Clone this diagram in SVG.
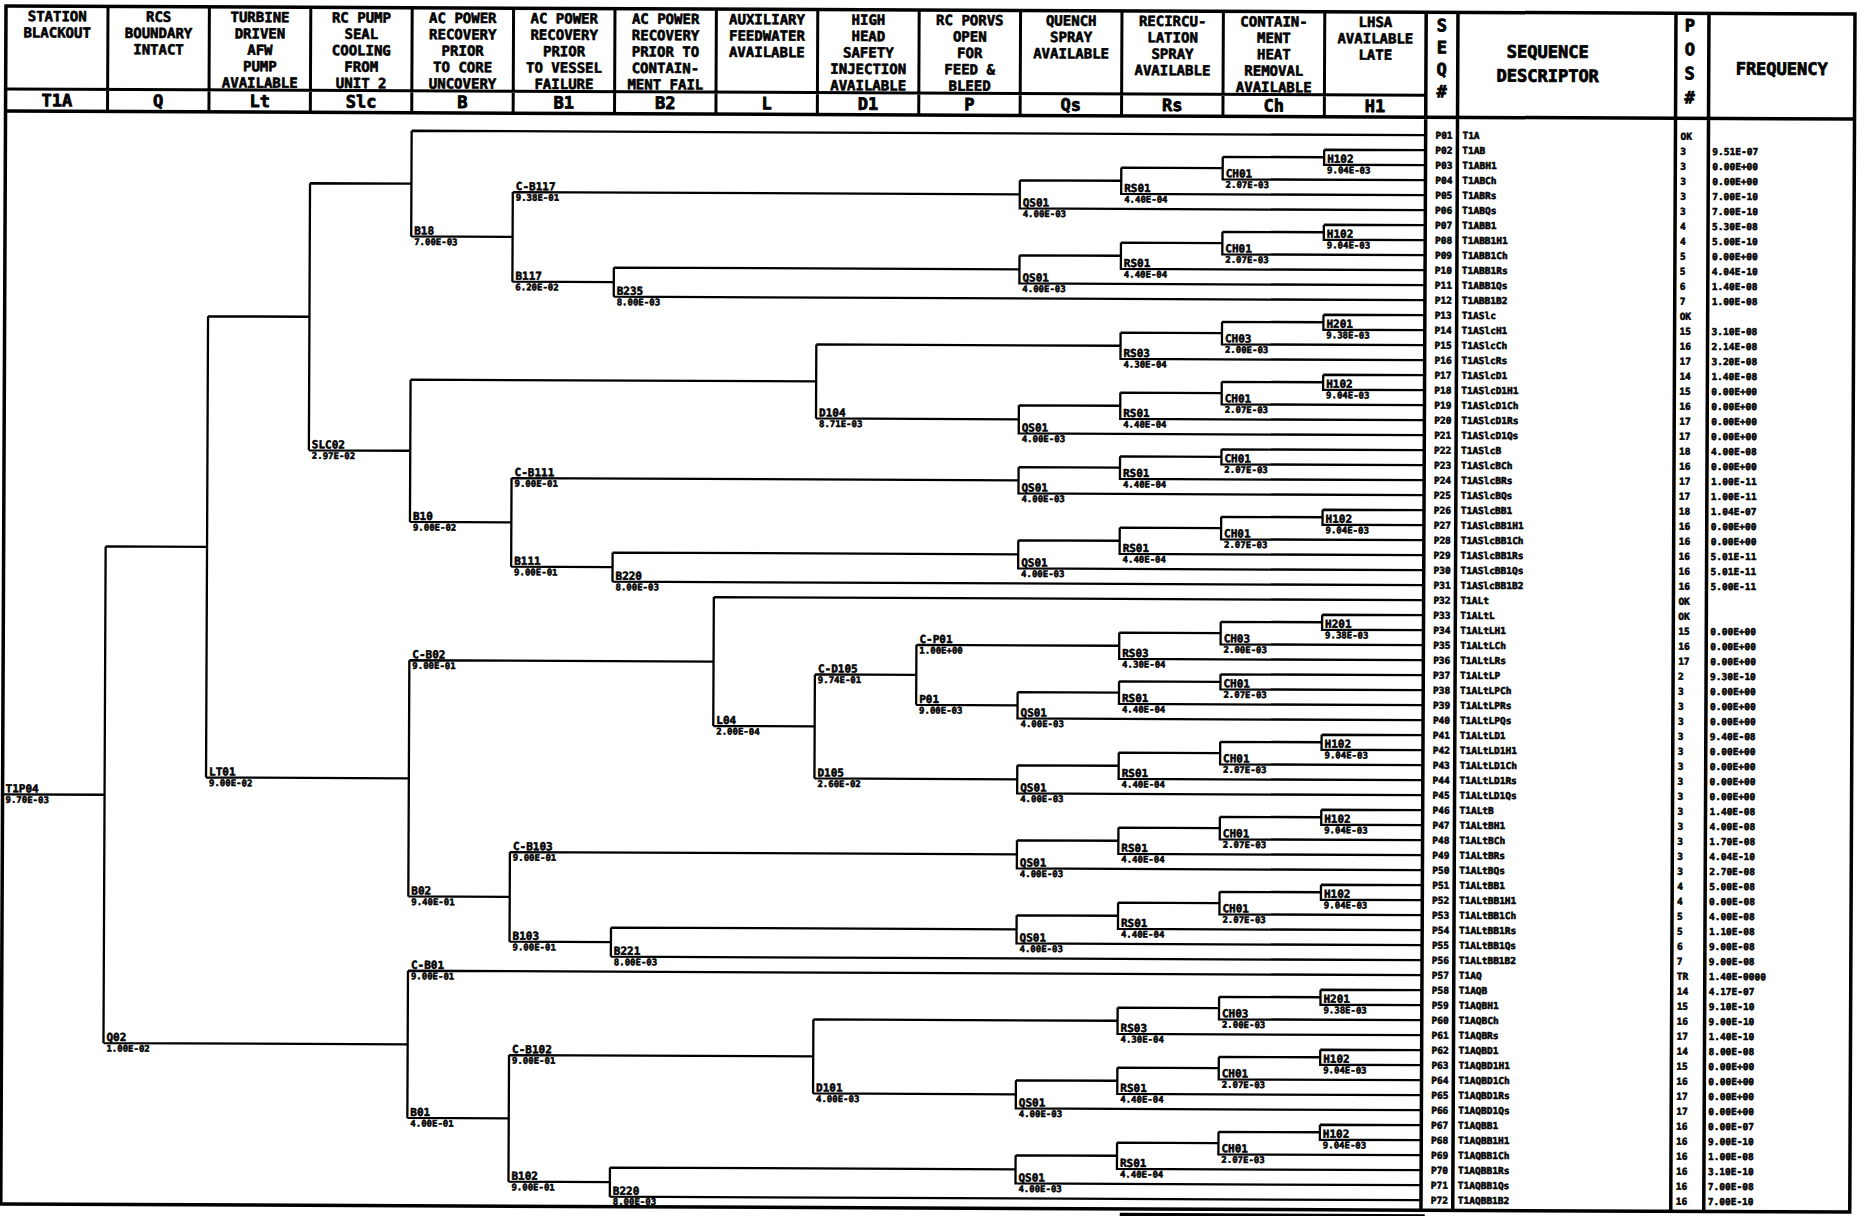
<svg xmlns="http://www.w3.org/2000/svg" width="1864" height="1216" viewBox="0 0 1864 1216">
<style>
text{fill:#000;stroke:#000;stroke-width:0.55;stroke-linejoin:round}
.h{font:bold 14px "DejaVu Sans Mono",monospace;text-anchor:middle;stroke-width:0.6}
.c{font:bold 17px "DejaVu Sans Mono",monospace;text-anchor:middle;stroke-width:0.8}
.hb{font:bold 17px "DejaVu Sans Mono",monospace;text-anchor:middle;stroke-width:0.8}
.n{font:bold 11px "DejaVu Sans Mono",monospace}
.v{font:bold 9px "DejaVu Sans Mono",monospace}
.r{font:bold 9.5px "DejaVu Sans Mono",monospace}
.fr{fill:none;stroke:#000;stroke-width:3.5}
.dv{fill:none;stroke:#000;stroke-width:3}
</style>
<defs>
<path id="gQ" d="M1020.6 31.875V60H1426M1020.6 31.875H1122M1122 18.75V45H1426M1122 18.75H1223.4M1223.4 7.5V30H1426M1223.4 7.5H1324.8M1324.8 0V15H1426M1324.8 0H1426"/>
<path id="g3" d="M1020.6 18.75V45H1426M1020.6 18.75H1122M1122 7.5V30H1426M1122 7.5H1223.4M1223.4 0V15H1426M1223.4 0H1426"/>
<path id="gR" d="M1122 18.75V45H1426M1122 18.75H1223.4M1223.4 7.5V30H1426M1223.4 7.5H1324.8M1324.8 0V15H1426M1324.8 0H1426"/>
</defs>
<rect width="1864" height="1216" fill="#fff"/>
<g transform="rotate(0.25 6 6)">
<g id="frame">
<rect class="fr" x="6" y="6" width="1849" height="1198"/>
<path class="dv" d="M6 89H1426M108 6V111M209.4 6V111M310.8 6V111M412.2 6V111M513.6 6V111M615 6V111M716.4 6V111M817.8 6V111M919.2 6V111M1020.6 6V111M1122 6V111M1223.4 6V111M1324.8 6V111"/>
<path class="fr" d="M6 111H1855M1426.2 6V1204M1458 6V1204M1676 6V1204M1709 6V1204"/>
<path fill="none" stroke="#000" stroke-width="4" d="M1127 1216V1210H1430"/>
</g>
<g id="header">
<g id="h-T1A"><text class="h" x="57.3" y="21">STATION<tspan x="57.3" dy="16.4">BLACKOUT</tspan></text><text class="c" x="57.3" y="106">T1A</text></g>
<g id="h-Q"><text class="h" x="158.7" y="21">RCS<tspan x="158.7" dy="16.4">BOUNDARY</tspan><tspan x="158.7" dy="16.4">INTACT</tspan></text><text class="c" x="158.7" y="106">Q</text></g>
<g id="h-Lt"><text class="h" x="260.1" y="21">TURBINE<tspan x="260.1" dy="16.4">DRIVEN</tspan><tspan x="260.1" dy="16.4">AFW</tspan><tspan x="260.1" dy="16.4">PUMP</tspan><tspan x="260.1" dy="16.4">AVAILABLE</tspan></text><text class="c" x="260.1" y="106">Lt</text></g>
<g id="h-Slc"><text class="h" x="361.5" y="21">RC PUMP<tspan x="361.5" dy="16.4">SEAL</tspan><tspan x="361.5" dy="16.4">COOLING</tspan><tspan x="361.5" dy="16.4">FROM</tspan><tspan x="361.5" dy="16.4">UNIT 2</tspan></text><text class="c" x="361.5" y="106">Slc</text></g>
<g id="h-B"><text class="h" x="462.9" y="21">AC POWER<tspan x="462.9" dy="16.4">RECOVERY</tspan><tspan x="462.9" dy="16.4">PRIOR</tspan><tspan x="462.9" dy="16.4">TO CORE</tspan><tspan x="462.9" dy="16.4">UNCOVERY</tspan></text><text class="c" x="462.9" y="106">B</text></g>
<g id="h-B1"><text class="h" x="564.3" y="21">AC POWER<tspan x="564.3" dy="16.4">RECOVERY</tspan><tspan x="564.3" dy="16.4">PRIOR</tspan><tspan x="564.3" dy="16.4">TO VESSEL</tspan><tspan x="564.3" dy="16.4">FAILURE</tspan></text><text class="c" x="564.3" y="106">B1</text></g>
<g id="h-B2"><text class="h" x="665.7" y="21">AC POWER<tspan x="665.7" dy="16.4">RECOVERY</tspan><tspan x="665.7" dy="16.4">PRIOR TO</tspan><tspan x="665.7" dy="16.4">CONTAIN-</tspan><tspan x="665.7" dy="16.4">MENT FAIL</tspan></text><text class="c" x="665.7" y="106">B2</text></g>
<g id="h-L"><text class="h" x="767.1" y="21">AUXILIARY<tspan x="767.1" dy="16.4">FEEDWATER</tspan><tspan x="767.1" dy="16.4">AVAILABLE</tspan></text><text class="c" x="767.1" y="106">L</text></g>
<g id="h-D1"><text class="h" x="868.5" y="21">HIGH<tspan x="868.5" dy="16.4">HEAD</tspan><tspan x="868.5" dy="16.4">SAFETY</tspan><tspan x="868.5" dy="16.4">INJECTION</tspan><tspan x="868.5" dy="16.4">AVAILABLE</tspan></text><text class="c" x="868.5" y="106">D1</text></g>
<g id="h-P"><text class="h" x="969.9" y="21">RC PORVS<tspan x="969.9" dy="16.4">OPEN</tspan><tspan x="969.9" dy="16.4">FOR</tspan><tspan x="969.9" dy="16.4">FEED &amp;</tspan><tspan x="969.9" dy="16.4">BLEED</tspan></text><text class="c" x="969.9" y="106">P</text></g>
<g id="h-Qs"><text class="h" x="1071.3" y="21">QUENCH<tspan x="1071.3" dy="16.4">SPRAY</tspan><tspan x="1071.3" dy="16.4">AVAILABLE</tspan></text><text class="c" x="1071.3" y="106">Qs</text></g>
<g id="h-Rs"><text class="h" x="1172.7" y="21">RECIRCU-<tspan x="1172.7" dy="16.4">LATION</tspan><tspan x="1172.7" dy="16.4">SPRAY</tspan><tspan x="1172.7" dy="16.4">AVAILABLE</tspan></text><text class="c" x="1172.7" y="106">Rs</text></g>
<g id="h-Ch"><text class="h" x="1274.1" y="21">CONTAIN-<tspan x="1274.1" dy="16.4">MENT</tspan><tspan x="1274.1" dy="16.4">HEAT</tspan><tspan x="1274.1" dy="16.4">REMOVAL</tspan><tspan x="1274.1" dy="16.4">AVAILABLE</tspan></text><text class="c" x="1274.1" y="106">Ch</text></g>
<g id="h-H1"><text class="h" x="1375.5" y="21">LHSA<tspan x="1375.5" dy="16.4">AVAILABLE</tspan><tspan x="1375.5" dy="16.4">LATE</tspan></text><text class="c" x="1375.5" y="106">H1</text></g>
<g id="h-seq"><text class="hb" x="1442" y="25">S<tspan x="1442" dy="22">E</tspan><tspan x="1442" dy="22">Q</tspan><tspan x="1442" dy="22">#</tspan></text></g>
<g id="h-desc"><text class="hb" x="1548" y="51">SEQUENCE<tspan x="1548" dy="24">DESCRIPTOR</tspan></text></g>
<g id="h-pos"><text class="hb" x="1690" y="24">P<tspan x="1690" dy="24">O</tspan><tspan x="1690" dy="24">S</tspan><tspan x="1690" dy="24">#</tspan></text></g>
<g id="h-freq"><text class="hb" x="1782" y="67">FREQUENCY</text></g>
</g>
<g id="connectors" fill="none" stroke="#000" stroke-width="2.3">
<path d="M6.6 794.3H108M108 546V1042.6M108 546H209.4M108 1042.6H412.2M209.4 315.4V776.6M209.4 315.4H310.8M209.4 776.6H412.2M310.8 181.9V449M310.8 181.9H412.2M310.8 449H412.2M412.2 129V234.7M412.2 129H1426M412.2 234.7H513.6M513.6 189.9V279.5M513.6 189.9H1020.6M513.6 279.5H615M615 264.9V294M615 264.9H1020.6M615 294H1426M412.2 377.9V520.2M412.2 377.9H817.8M412.2 520.2H513.6M817.8 340.9V414.9M817.8 340.9H1122M817.8 414.9H1020.6M513.6 475.9V564.5M513.6 475.9H1020.6M513.6 564.5H615M615 549.9V579M615 549.9H1020.6M615 579H1426M412.2 658.5V894.7M412.2 658.5H716.4M412.2 894.7H513.6M716.4 594V722.9M716.4 594H1426M716.4 722.9H817.8M817.8 670.9V774.9M817.8 670.9H919.2M817.8 774.9H1020.6M919.2 640.9V700.9M919.2 640.9H1122M919.2 700.9H1020.6M513.6 849.9V939.5M513.6 849.9H1020.6M513.6 939.5H615M615 924.9V954M615 924.9H1020.6M615 954H1426M412.2 969V1116.2M412.2 969H1426M412.2 1116.2H513.6M513.6 1052.9V1179.5M513.6 1052.9H817.8M513.6 1179.5H615M817.8 1015.9V1089.9M817.8 1015.9H1122M817.8 1089.9H1020.6M615 1164.9V1194M615 1164.9H1020.6M615 1194H1426"/>
<use href="#gQ" y="144"/><use href="#gQ" y="219"/><use href="#gR" y="309"/><use href="#gQ" y="369"/><use href="#g3" y="444"/><use href="#gQ" y="504"/><use href="#gR" y="609"/><use href="#g3" y="669"/><use href="#gQ" y="729"/><use href="#gQ" y="804"/><use href="#gQ" y="879"/><use href="#gR" y="984"/><use href="#gQ" y="1044"/><use href="#gQ" y="1119"/>
</g>
<g id="branch-labels">
<g id="n-T1P04"><text class="n" x="9" y="792.3">T1P04</text><text class="v" x="9" y="802.8">9.70E-03</text></g>
<g id="n-Q02"><text class="n" x="111" y="1040.6">Q02</text><text class="v" x="111" y="1051.1">1.00E-02</text></g>
<g id="n-LT01"><text class="n" x="212.4" y="774.6">LT01</text><text class="v" x="212.4" y="785.1">9.00E-02</text></g>
<g id="n-SLC02"><text class="n" x="313.8" y="447">SLC02</text><text class="v" x="313.8" y="457.5">2.97E-02</text></g>
<g id="n-B18"><text class="n" x="415.2" y="232.7">B18</text><text class="v" x="415.2" y="243.2">7.00E-03</text></g>
<g id="n-CB117"><text class="n" x="516.6" y="187.9">C-B117</text><text class="v" x="516.6" y="198.4">9.38E-01</text></g>
<g id="n-B117"><text class="n" x="516.6" y="277.5">B117</text><text class="v" x="516.6" y="288">6.20E-02</text></g>
<g id="n-B235"><text class="n" x="618" y="292">B235</text><text class="v" x="618" y="302.5">8.00E-03</text></g>
<g id="n-D104"><text class="n" x="820.8" y="412.9">D104</text><text class="v" x="820.8" y="423.4">8.71E-03</text></g>
<g id="n-B10"><text class="n" x="415.2" y="518.2">B10</text><text class="v" x="415.2" y="528.7">9.00E-02</text></g>
<g id="n-CB111"><text class="n" x="516.6" y="473.9">C-B111</text><text class="v" x="516.6" y="484.4">9.00E-01</text></g>
<g id="n-B111"><text class="n" x="516.6" y="562.5">B111</text><text class="v" x="516.6" y="573">9.00E-01</text></g>
<g id="n-B220a"><text class="n" x="618" y="577">B220</text><text class="v" x="618" y="587.5">8.00E-03</text></g>
<g id="n-CB02"><text class="n" x="415.2" y="656.5">C-B02</text><text class="v" x="415.2" y="667">9.00E-01</text></g>
<g id="n-B02"><text class="n" x="415.2" y="892.7">B02</text><text class="v" x="415.2" y="903.2">9.40E-01</text></g>
<g id="n-L04"><text class="n" x="719.4" y="720.9">L04</text><text class="v" x="719.4" y="731.4">2.00E-04</text></g>
<g id="n-CD105"><text class="n" x="820.8" y="668.9">C-D105</text><text class="v" x="820.8" y="679.4">9.74E-01</text></g>
<g id="n-D105"><text class="n" x="820.8" y="772.9">D105</text><text class="v" x="820.8" y="783.4">2.60E-02</text></g>
<g id="n-CP01"><text class="n" x="922.2" y="638.9">C-P01</text><text class="v" x="922.2" y="649.4">1.00E+00</text></g>
<g id="n-P01"><text class="n" x="922.2" y="698.9">P01</text><text class="v" x="922.2" y="709.4">9.00E-03</text></g>
<g id="n-CB103"><text class="n" x="516.6" y="847.9">C-B103</text><text class="v" x="516.6" y="858.4">9.00E-01</text></g>
<g id="n-B103"><text class="n" x="516.6" y="937.5">B103</text><text class="v" x="516.6" y="948">9.00E-01</text></g>
<g id="n-B221"><text class="n" x="618" y="952">B221</text><text class="v" x="618" y="962.5">8.00E-03</text></g>
<g id="n-CB01"><text class="n" x="415.2" y="967">C-B01</text><text class="v" x="415.2" y="977.5">9.00E-01</text></g>
<g id="n-B01"><text class="n" x="415.2" y="1114.2">B01</text><text class="v" x="415.2" y="1124.7">4.00E-01</text></g>
<g id="n-CB102"><text class="n" x="516.6" y="1050.9">C-B102</text><text class="v" x="516.6" y="1061.4">9.00E-01</text></g>
<g id="n-B102"><text class="n" x="516.6" y="1177.5">B102</text><text class="v" x="516.6" y="1188">9.00E-01</text></g>
<g id="n-D101"><text class="n" x="820.8" y="1087.9">D101</text><text class="v" x="820.8" y="1098.4">4.00E-03</text></g>
<g id="n-B220b"><text class="n" x="618" y="1192">B220</text><text class="v" x="618" y="1202">8.00E-03</text></g>
</g>
<g id="group-labels">
<g id="gl-2"><text class="n" x="1327.8" y="157">H102</text><text class="v" x="1327.8" y="167.5">9.04E-03</text><text class="n" x="1226.4" y="172">CH01</text><text class="v" x="1226.4" y="182.5">2.07E-03</text><text class="n" x="1125" y="187">RS01</text><text class="v" x="1125" y="197.5">4.40E-04</text><text class="n" x="1023.6" y="202">QS01</text><text class="v" x="1023.6" y="212.5">4.00E-03</text></g>
<g id="gl-7"><text class="n" x="1327.8" y="232">H102</text><text class="v" x="1327.8" y="242.5">9.04E-03</text><text class="n" x="1226.4" y="247">CH01</text><text class="v" x="1226.4" y="257.5">2.07E-03</text><text class="n" x="1125" y="262">RS01</text><text class="v" x="1125" y="272.5">4.40E-04</text><text class="n" x="1023.6" y="277">QS01</text><text class="v" x="1023.6" y="287.5">4.00E-03</text></g>
<g id="gl-13"><text class="n" x="1327.8" y="322">H201</text><text class="v" x="1327.8" y="332.5">9.38E-03</text><text class="n" x="1226.4" y="337">CH03</text><text class="v" x="1226.4" y="347.5">2.00E-03</text><text class="n" x="1125" y="352">RS03</text><text class="v" x="1125" y="362.5">4.30E-04</text></g>
<g id="gl-17"><text class="n" x="1327.8" y="382">H102</text><text class="v" x="1327.8" y="392.5">9.04E-03</text><text class="n" x="1226.4" y="397">CH01</text><text class="v" x="1226.4" y="407.5">2.07E-03</text><text class="n" x="1125" y="412">RS01</text><text class="v" x="1125" y="422.5">4.40E-04</text><text class="n" x="1023.6" y="427">QS01</text><text class="v" x="1023.6" y="437.5">4.00E-03</text></g>
<g id="gl-22"><text class="n" x="1226.4" y="457">CH01</text><text class="v" x="1226.4" y="467.5">2.07E-03</text><text class="n" x="1125" y="472">RS01</text><text class="v" x="1125" y="482.5">4.40E-04</text><text class="n" x="1023.6" y="487">QS01</text><text class="v" x="1023.6" y="497.5">4.00E-03</text></g>
<g id="gl-26"><text class="n" x="1327.8" y="517">H102</text><text class="v" x="1327.8" y="527.5">9.04E-03</text><text class="n" x="1226.4" y="532">CH01</text><text class="v" x="1226.4" y="542.5">2.07E-03</text><text class="n" x="1125" y="547">RS01</text><text class="v" x="1125" y="557.5">4.40E-04</text><text class="n" x="1023.6" y="562">QS01</text><text class="v" x="1023.6" y="572.5">4.00E-03</text></g>
<g id="gl-33"><text class="n" x="1327.8" y="622">H201</text><text class="v" x="1327.8" y="632.5">9.38E-03</text><text class="n" x="1226.4" y="637">CH03</text><text class="v" x="1226.4" y="647.5">2.00E-03</text><text class="n" x="1125" y="652">RS03</text><text class="v" x="1125" y="662.5">4.30E-04</text></g>
<g id="gl-37"><text class="n" x="1226.4" y="682">CH01</text><text class="v" x="1226.4" y="692.5">2.07E-03</text><text class="n" x="1125" y="697">RS01</text><text class="v" x="1125" y="707.5">4.40E-04</text><text class="n" x="1023.6" y="712">QS01</text><text class="v" x="1023.6" y="722.5">4.00E-03</text></g>
<g id="gl-41"><text class="n" x="1327.8" y="742">H102</text><text class="v" x="1327.8" y="752.5">9.04E-03</text><text class="n" x="1226.4" y="757">CH01</text><text class="v" x="1226.4" y="767.5">2.07E-03</text><text class="n" x="1125" y="772">RS01</text><text class="v" x="1125" y="782.5">4.40E-04</text><text class="n" x="1023.6" y="787">QS01</text><text class="v" x="1023.6" y="797.5">4.00E-03</text></g>
<g id="gl-46"><text class="n" x="1327.8" y="817">H102</text><text class="v" x="1327.8" y="827.5">9.04E-03</text><text class="n" x="1226.4" y="832">CH01</text><text class="v" x="1226.4" y="842.5">2.07E-03</text><text class="n" x="1125" y="847">RS01</text><text class="v" x="1125" y="857.5">4.40E-04</text><text class="n" x="1023.6" y="862">QS01</text><text class="v" x="1023.6" y="872.5">4.00E-03</text></g>
<g id="gl-51"><text class="n" x="1327.8" y="892">H102</text><text class="v" x="1327.8" y="902.5">9.04E-03</text><text class="n" x="1226.4" y="907">CH01</text><text class="v" x="1226.4" y="917.5">2.07E-03</text><text class="n" x="1125" y="922">RS01</text><text class="v" x="1125" y="932.5">4.40E-04</text><text class="n" x="1023.6" y="937">QS01</text><text class="v" x="1023.6" y="947.5">4.00E-03</text></g>
<g id="gl-58"><text class="n" x="1327.8" y="997">H201</text><text class="v" x="1327.8" y="1007.5">9.38E-03</text><text class="n" x="1226.4" y="1012">CH03</text><text class="v" x="1226.4" y="1022.5">2.00E-03</text><text class="n" x="1125" y="1027">RS03</text><text class="v" x="1125" y="1037.5">4.30E-04</text></g>
<g id="gl-62"><text class="n" x="1327.8" y="1057">H102</text><text class="v" x="1327.8" y="1067.5">9.04E-03</text><text class="n" x="1226.4" y="1072">CH01</text><text class="v" x="1226.4" y="1082.5">2.07E-03</text><text class="n" x="1125" y="1087">RS01</text><text class="v" x="1125" y="1097.5">4.40E-04</text><text class="n" x="1023.6" y="1102">QS01</text><text class="v" x="1023.6" y="1112.5">4.00E-03</text></g>
<g id="gl-67"><text class="n" x="1327.8" y="1132">H102</text><text class="v" x="1327.8" y="1142.5">9.04E-03</text><text class="n" x="1226.4" y="1147">CH01</text><text class="v" x="1226.4" y="1157.5">2.07E-03</text><text class="n" x="1125" y="1162">RS01</text><text class="v" x="1125" y="1172.5">4.40E-04</text><text class="n" x="1023.6" y="1177">QS01</text><text class="v" x="1023.6" y="1187.5">4.00E-03</text></g>
</g>
<g id="sequences" class="r">
<text y="132.5"><tspan x="1436">P01</tspan><tspan x="1463">T1A</tspan><tspan x="1681">OK</tspan></text>
<text y="147.5"><tspan x="1436">P02</tspan><tspan x="1463">T1AB</tspan><tspan x="1681">3</tspan><tspan x="1713">9.51E-07</tspan></text>
<text y="162.5"><tspan x="1436">P03</tspan><tspan x="1463">T1ABH1</tspan><tspan x="1681">3</tspan><tspan x="1713">0.00E+00</tspan></text>
<text y="177.5"><tspan x="1436">P04</tspan><tspan x="1463">T1ABCh</tspan><tspan x="1681">3</tspan><tspan x="1713">0.00E+00</tspan></text>
<text y="192.5"><tspan x="1436">P05</tspan><tspan x="1463">T1ABRs</tspan><tspan x="1681">3</tspan><tspan x="1713">7.00E-10</tspan></text>
<text y="207.5"><tspan x="1436">P06</tspan><tspan x="1463">T1ABQs</tspan><tspan x="1681">3</tspan><tspan x="1713">7.00E-10</tspan></text>
<text y="222.5"><tspan x="1436">P07</tspan><tspan x="1463">T1ABB1</tspan><tspan x="1681">4</tspan><tspan x="1713">5.30E-08</tspan></text>
<text y="237.5"><tspan x="1436">P08</tspan><tspan x="1463">T1ABB1H1</tspan><tspan x="1681">4</tspan><tspan x="1713">5.00E-10</tspan></text>
<text y="252.5"><tspan x="1436">P09</tspan><tspan x="1463">T1ABB1Ch</tspan><tspan x="1681">5</tspan><tspan x="1713">0.00E+00</tspan></text>
<text y="267.5"><tspan x="1436">P10</tspan><tspan x="1463">T1ABB1Rs</tspan><tspan x="1681">5</tspan><tspan x="1713">4.04E-10</tspan></text>
<text y="282.5"><tspan x="1436">P11</tspan><tspan x="1463">T1ABB1Qs</tspan><tspan x="1681">6</tspan><tspan x="1713">1.40E-08</tspan></text>
<text y="297.5"><tspan x="1436">P12</tspan><tspan x="1463">T1ABB1B2</tspan><tspan x="1681">7</tspan><tspan x="1713">1.00E-08</tspan></text>
<text y="312.5"><tspan x="1436">P13</tspan><tspan x="1463">T1ASlc</tspan><tspan x="1681">OK</tspan></text>
<text y="327.5"><tspan x="1436">P14</tspan><tspan x="1463">T1ASlcH1</tspan><tspan x="1681">15</tspan><tspan x="1713">3.10E-08</tspan></text>
<text y="342.5"><tspan x="1436">P15</tspan><tspan x="1463">T1ASlcCh</tspan><tspan x="1681">16</tspan><tspan x="1713">2.14E-08</tspan></text>
<text y="357.5"><tspan x="1436">P16</tspan><tspan x="1463">T1ASlcRs</tspan><tspan x="1681">17</tspan><tspan x="1713">3.20E-08</tspan></text>
<text y="372.5"><tspan x="1436">P17</tspan><tspan x="1463">T1ASlcD1</tspan><tspan x="1681">14</tspan><tspan x="1713">1.40E-08</tspan></text>
<text y="387.5"><tspan x="1436">P18</tspan><tspan x="1463">T1ASlcD1H1</tspan><tspan x="1681">15</tspan><tspan x="1713">0.00E+00</tspan></text>
<text y="402.5"><tspan x="1436">P19</tspan><tspan x="1463">T1ASlcD1Ch</tspan><tspan x="1681">16</tspan><tspan x="1713">0.00E+00</tspan></text>
<text y="417.5"><tspan x="1436">P20</tspan><tspan x="1463">T1ASlcD1Rs</tspan><tspan x="1681">17</tspan><tspan x="1713">0.00E+00</tspan></text>
<text y="432.5"><tspan x="1436">P21</tspan><tspan x="1463">T1ASlcD1Qs</tspan><tspan x="1681">17</tspan><tspan x="1713">0.00E+00</tspan></text>
<text y="447.5"><tspan x="1436">P22</tspan><tspan x="1463">T1ASlcB</tspan><tspan x="1681">18</tspan><tspan x="1713">4.00E-08</tspan></text>
<text y="462.5"><tspan x="1436">P23</tspan><tspan x="1463">T1ASlcBCh</tspan><tspan x="1681">16</tspan><tspan x="1713">0.00E+00</tspan></text>
<text y="477.5"><tspan x="1436">P24</tspan><tspan x="1463">T1ASlcBRs</tspan><tspan x="1681">17</tspan><tspan x="1713">1.00E-11</tspan></text>
<text y="492.5"><tspan x="1436">P25</tspan><tspan x="1463">T1ASlcBQs</tspan><tspan x="1681">17</tspan><tspan x="1713">1.00E-11</tspan></text>
<text y="507.5"><tspan x="1436">P26</tspan><tspan x="1463">T1ASlcBB1</tspan><tspan x="1681">18</tspan><tspan x="1713">1.04E-07</tspan></text>
<text y="522.5"><tspan x="1436">P27</tspan><tspan x="1463">T1ASlcBB1H1</tspan><tspan x="1681">16</tspan><tspan x="1713">0.00E+00</tspan></text>
<text y="537.5"><tspan x="1436">P28</tspan><tspan x="1463">T1ASlcBB1Ch</tspan><tspan x="1681">16</tspan><tspan x="1713">0.00E+00</tspan></text>
<text y="552.5"><tspan x="1436">P29</tspan><tspan x="1463">T1ASlcBB1Rs</tspan><tspan x="1681">16</tspan><tspan x="1713">5.01E-11</tspan></text>
<text y="567.5"><tspan x="1436">P30</tspan><tspan x="1463">T1ASlcBB1Qs</tspan><tspan x="1681">16</tspan><tspan x="1713">5.01E-11</tspan></text>
<text y="582.5"><tspan x="1436">P31</tspan><tspan x="1463">T1ASlcBB1B2</tspan><tspan x="1681">16</tspan><tspan x="1713">5.00E-11</tspan></text>
<text y="597.5"><tspan x="1436">P32</tspan><tspan x="1463">T1ALt</tspan><tspan x="1681">OK</tspan></text>
<text y="612.5"><tspan x="1436">P33</tspan><tspan x="1463">T1ALtL</tspan><tspan x="1681">OK</tspan></text>
<text y="627.5"><tspan x="1436">P34</tspan><tspan x="1463">T1ALtLH1</tspan><tspan x="1681">15</tspan><tspan x="1713">0.00E+00</tspan></text>
<text y="642.5"><tspan x="1436">P35</tspan><tspan x="1463">T1ALtLCh</tspan><tspan x="1681">16</tspan><tspan x="1713">0.00E+00</tspan></text>
<text y="657.5"><tspan x="1436">P36</tspan><tspan x="1463">T1ALtLRs</tspan><tspan x="1681">17</tspan><tspan x="1713">0.00E+00</tspan></text>
<text y="672.5"><tspan x="1436">P37</tspan><tspan x="1463">T1ALtLP</tspan><tspan x="1681">2</tspan><tspan x="1713">9.30E-10</tspan></text>
<text y="687.5"><tspan x="1436">P38</tspan><tspan x="1463">T1ALtLPCh</tspan><tspan x="1681">3</tspan><tspan x="1713">0.00E+00</tspan></text>
<text y="702.5"><tspan x="1436">P39</tspan><tspan x="1463">T1ALtLPRs</tspan><tspan x="1681">3</tspan><tspan x="1713">0.00E+00</tspan></text>
<text y="717.5"><tspan x="1436">P40</tspan><tspan x="1463">T1ALtLPQs</tspan><tspan x="1681">3</tspan><tspan x="1713">0.00E+00</tspan></text>
<text y="732.5"><tspan x="1436">P41</tspan><tspan x="1463">T1ALtLD1</tspan><tspan x="1681">3</tspan><tspan x="1713">9.40E-08</tspan></text>
<text y="747.5"><tspan x="1436">P42</tspan><tspan x="1463">T1ALtLD1H1</tspan><tspan x="1681">3</tspan><tspan x="1713">0.00E+00</tspan></text>
<text y="762.5"><tspan x="1436">P43</tspan><tspan x="1463">T1ALtLD1Ch</tspan><tspan x="1681">3</tspan><tspan x="1713">0.00E+00</tspan></text>
<text y="777.5"><tspan x="1436">P44</tspan><tspan x="1463">T1ALtLD1Rs</tspan><tspan x="1681">3</tspan><tspan x="1713">0.00E+00</tspan></text>
<text y="792.5"><tspan x="1436">P45</tspan><tspan x="1463">T1ALtLD1Qs</tspan><tspan x="1681">3</tspan><tspan x="1713">0.00E+00</tspan></text>
<text y="807.5"><tspan x="1436">P46</tspan><tspan x="1463">T1ALtB</tspan><tspan x="1681">3</tspan><tspan x="1713">1.40E-08</tspan></text>
<text y="822.5"><tspan x="1436">P47</tspan><tspan x="1463">T1ALtBH1</tspan><tspan x="1681">3</tspan><tspan x="1713">4.00E-08</tspan></text>
<text y="837.5"><tspan x="1436">P48</tspan><tspan x="1463">T1ALtBCh</tspan><tspan x="1681">3</tspan><tspan x="1713">1.70E-08</tspan></text>
<text y="852.5"><tspan x="1436">P49</tspan><tspan x="1463">T1ALtBRs</tspan><tspan x="1681">3</tspan><tspan x="1713">4.04E-10</tspan></text>
<text y="867.5"><tspan x="1436">P50</tspan><tspan x="1463">T1ALtBQs</tspan><tspan x="1681">3</tspan><tspan x="1713">2.70E-08</tspan></text>
<text y="882.5"><tspan x="1436">P51</tspan><tspan x="1463">T1ALtBB1</tspan><tspan x="1681">4</tspan><tspan x="1713">5.00E-08</tspan></text>
<text y="897.5"><tspan x="1436">P52</tspan><tspan x="1463">T1ALtBB1H1</tspan><tspan x="1681">4</tspan><tspan x="1713">0.00E-08</tspan></text>
<text y="912.5"><tspan x="1436">P53</tspan><tspan x="1463">T1ALtBB1Ch</tspan><tspan x="1681">5</tspan><tspan x="1713">4.00E-08</tspan></text>
<text y="927.5"><tspan x="1436">P54</tspan><tspan x="1463">T1ALtBB1Rs</tspan><tspan x="1681">5</tspan><tspan x="1713">1.10E-08</tspan></text>
<text y="942.5"><tspan x="1436">P55</tspan><tspan x="1463">T1ALtBB1Qs</tspan><tspan x="1681">6</tspan><tspan x="1713">9.00E-08</tspan></text>
<text y="957.5"><tspan x="1436">P56</tspan><tspan x="1463">T1ALtBB1B2</tspan><tspan x="1681">7</tspan><tspan x="1713">9.00E-08</tspan></text>
<text y="972.5"><tspan x="1436">P57</tspan><tspan x="1463">T1AQ</tspan><tspan x="1681">TR</tspan><tspan x="1713">1.40E-0000</tspan></text>
<text y="987.5"><tspan x="1436">P58</tspan><tspan x="1463">T1AQB</tspan><tspan x="1681">14</tspan><tspan x="1713">4.17E-07</tspan></text>
<text y="1002.5"><tspan x="1436">P59</tspan><tspan x="1463">T1AQBH1</tspan><tspan x="1681">15</tspan><tspan x="1713">9.10E-10</tspan></text>
<text y="1017.5"><tspan x="1436">P60</tspan><tspan x="1463">T1AQBCh</tspan><tspan x="1681">16</tspan><tspan x="1713">9.00E-10</tspan></text>
<text y="1032.5"><tspan x="1436">P61</tspan><tspan x="1463">T1AQBRs</tspan><tspan x="1681">17</tspan><tspan x="1713">1.40E-10</tspan></text>
<text y="1047.5"><tspan x="1436">P62</tspan><tspan x="1463">T1AQBD1</tspan><tspan x="1681">14</tspan><tspan x="1713">8.00E-08</tspan></text>
<text y="1062.5"><tspan x="1436">P63</tspan><tspan x="1463">T1AQBD1H1</tspan><tspan x="1681">15</tspan><tspan x="1713">0.00E+00</tspan></text>
<text y="1077.5"><tspan x="1436">P64</tspan><tspan x="1463">T1AQBD1Ch</tspan><tspan x="1681">16</tspan><tspan x="1713">0.00E+00</tspan></text>
<text y="1092.5"><tspan x="1436">P65</tspan><tspan x="1463">T1AQBD1Rs</tspan><tspan x="1681">17</tspan><tspan x="1713">0.00E+00</tspan></text>
<text y="1107.5"><tspan x="1436">P66</tspan><tspan x="1463">T1AQBD1Qs</tspan><tspan x="1681">17</tspan><tspan x="1713">0.00E+00</tspan></text>
<text y="1122.5"><tspan x="1436">P67</tspan><tspan x="1463">T1AQBB1</tspan><tspan x="1681">16</tspan><tspan x="1713">0.00E-07</tspan></text>
<text y="1137.5"><tspan x="1436">P68</tspan><tspan x="1463">T1AQBB1H1</tspan><tspan x="1681">16</tspan><tspan x="1713">9.00E-10</tspan></text>
<text y="1152.5"><tspan x="1436">P69</tspan><tspan x="1463">T1AQBB1Ch</tspan><tspan x="1681">16</tspan><tspan x="1713">1.00E-08</tspan></text>
<text y="1167.5"><tspan x="1436">P70</tspan><tspan x="1463">T1AQBB1Rs</tspan><tspan x="1681">16</tspan><tspan x="1713">3.10E-10</tspan></text>
<text y="1182.5"><tspan x="1436">P71</tspan><tspan x="1463">T1AQBB1Qs</tspan><tspan x="1681">16</tspan><tspan x="1713">7.00E-08</tspan></text>
<text y="1197.5"><tspan x="1436">P72</tspan><tspan x="1463">T1AQBB1B2</tspan><tspan x="1681">16</tspan><tspan x="1713">7.00E-10</tspan></text>
</g>
</g>
</svg>
